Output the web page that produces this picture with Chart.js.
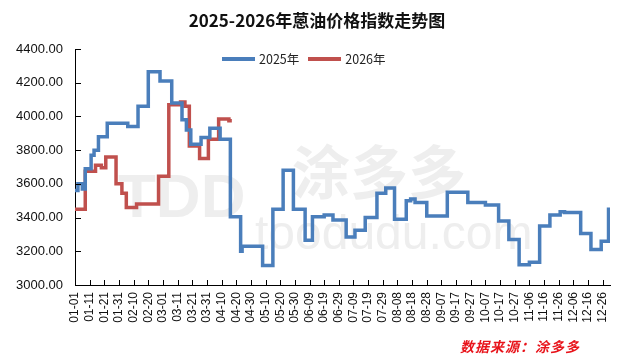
<!DOCTYPE html>
<html>
<head>
<meta charset="utf-8">
<script src="https://cdn.jsdelivr.net/npm/chart.js@4/dist/chart.umd.min.js"></script>
<style>
  html, body { margin: 0; padding: 0; background: #fff; }
  #wrap { position: relative; width: 620px; height: 361px; }
  #title { position: absolute; left: 0; top: 7px; width: 634px; text-align: center;
           font: bold 17px "Noto Sans CJK SC", sans-serif; color: #111; }
  #legend { position: absolute; left: 222px; top: 49px; display: flex;
            font: 12.5px "Noto Sans CJK SC", sans-serif; color: #222; }
  #legend .item { display: flex; align-items: center; margin-right: 9px; }
  #legend .swatch { width: 33px; height: 4px; margin-right: 4px; }
  #source { position: absolute; left: 460px; top: 336px; letter-spacing: 1px;
            font: italic bold 14px "Noto Sans CJK SC", sans-serif; color: #e8141b; }
</style>
</head>
<body>
<div id="wrap">
  <canvas id="chart" width="620" height="361"></canvas>
  <div id="title">2025-2026年蒽油价格指数走势图</div>
  <div id="legend"></div>
  <div id="source">数据来源：涂多多</div>
</div>
<script>
// x axis tick labels, one every 10 days
const tickLabels = ['01-01', '01-11', '01-21', '01-31', '02-10', '02-20', '03-01', '03-11', '03-21', '03-31',
  '04-10', '04-20', '04-30', '05-10', '05-20', '05-30', '06-09', '06-19', '06-29', '07-09',
  '07-19', '07-29', '08-08', '08-18', '08-28', '09-07', '09-17', '09-27', '10-07', '10-17',
  '10-27', '11-06', '11-16', '11-26', '12-06', '12-16', '12-26'];

// 2025: day of year where the price changes, and the new price
const days2025 = [0, 2, 5, 7, 11, 13, 16, 22, 36, 43, 50, 58, 66, 73, 76, 79, 86, 92, 99, 106,
  113, 114, 128, 135, 142, 149, 157, 162, 170, 176, 185, 191, 198, 206, 212, 218, 226, 229, 232, 240,
  254, 268, 280, 289, 296, 303, 310, 317, 324, 331, 334, 345, 352, 359, 364, 365];
const values2025 = [3560, 3600, 3570, 3690, 3770, 3800, 3880, 3960, 3940, 4060, 4265, 4210, 4080, 3980, 3920, 3835, 3875, 3930, 3865, 3405,
  3200, 3230, 3115, 3450, 3680, 3450, 3265, 3405, 3415, 3385, 3285, 3325, 3400, 3545, 3575, 3390, 3500, 3510, 3490, 3410,
  3550, 3490, 3475, 3380, 3270, 3120, 3135, 3350, 3415, 3435, 3430, 3305, 3210, 3260, 3450, 3450];

// 2026 so far
const days2026 = [0, 7, 14, 18, 21, 28, 32, 35, 42, 57, 64, 72, 75, 78, 85, 91, 98, 105, 107];
const values2026 = [3450, 3675, 3710, 3695, 3760, 3600, 3545, 3460, 3480, 3645, 4070, 4085, 4060, 3825, 3750, 3865, 3985, 3975, 3975];

const toPoints = (days, values) => days.map((d, i) => ({ x: d, y: values[i] }));

// faint watermark behind the lines
const watermark = {
  id: 'watermark',
  beforeDatasetsDraw(chart) {
    const ctx = chart.ctx;
    ctx.save();
    ctx.fillStyle = '#eeeeee';
    ctx.textBaseline = 'middle';
    ctx.font = 'bold 62px "Liberation Sans", sans-serif';
    ctx.fillText('TDD', 118, 200);
    ctx.font = 'bold 58px "Noto Sans CJK SC", sans-serif';
    ctx.fillText('涂多多', 292, 172);
    ctx.font = '48px "Liberation Sans", sans-serif';
    ctx.fillText('toodudu.com', 255, 236);
    ctx.restore();
  }
};

// small tick marks pointing into the plot
const inwardTicks = {
  id: 'inwardTicks',
  afterDatasetsDraw(chart) {
    const { ctx, chartArea, scales: { x, y } } = chart;
    ctx.save();
    ctx.strokeStyle = '#000';
    ctx.lineWidth = 1;
    ctx.beginPath();
    y.ticks.forEach((t, i) => {
      const py = Math.round(y.getPixelForTick(i)) + 0.5;
      ctx.moveTo(chartArea.left, py);
      ctx.lineTo(chartArea.left + 6, py);
    });
    x.ticks.forEach((t, i) => {
      const px = Math.round(x.getPixelForTick(i)) + 0.5;
      ctx.moveTo(px, chartArea.bottom);
      ctx.lineTo(px, chartArea.bottom - 5);
    });
    ctx.stroke();
    ctx.restore();
  }
};

const ctx = document.getElementById('chart').getContext('2d');
const chart = new Chart(ctx, {
  type: 'line',
  data: {
    datasets: [
      {
        label: '2025年',
        data: toPoints(days2025, values2025),
        borderColor: '#4a7ebb',
        backgroundColor: '#4a7ebb',
        borderWidth: 3.5,
        stepped: 'before',
        pointRadius: 0
      },
      {
        label: '2026年',
        data: toPoints(days2026, values2026),
        borderColor: '#c0504d',
        backgroundColor: '#c0504d',
        borderWidth: 3.5,
        stepped: 'before',
        pointRadius: 0
      }
    ]
  },
  options: {
    responsive: false,
    animation: false,
    layout: { padding: { left: 0, right: 10, top: 49, bottom: 0 } },
    plugins: {
      legend: { display: false },
      title: { display: false },
      tooltip: { enabled: false }
    },
    scales: {
      x: {
        type: 'linear',
        min: 0,
        max: 365,
        grid: { display: false, drawTicks: false },
        border: { color: '#000', width: 1 },
        afterBuildTicks: scale => {
          scale.ticks = tickLabels.map((t, i) => ({ value: i * 10 }));
        },
        afterFit: scale => {
          scale.height = 76;
          scale.paddingLeft = 0;
          scale.paddingRight = 0;
        },
        ticks: {
          autoSkip: false,
          minRotation: 90,
          maxRotation: 90,
          padding: 7,
          color: '#111',
          font: { family: '"Liberation Sans", sans-serif', size: 12 },
          callback: (v, i) => tickLabels[i]
        }
      },
      y: {
        min: 3000,
        max: 4400,
        grid: { display: false, drawTicks: false },
        border: { color: '#000', width: 1 },
        afterFit: scale => {
          scale.width = 75;
        },
        ticks: {
          stepSize: 200,
          padding: 12,
          color: '#111',
          font: { family: '"Liberation Sans", sans-serif', size: 13 },
          callback: v => v.toFixed(2)
        }
      }
    }
  },
  plugins: [watermark, inwardTicks]
});

// legend built from the datasets
const legendEl = document.getElementById('legend');
chart.data.datasets.forEach(ds => {
  const item = document.createElement('div');
  item.className = 'item';
  const sw = document.createElement('span');
  sw.className = 'swatch';
  sw.style.background = ds.borderColor;
  const label = document.createElement('span');
  label.textContent = ds.label;
  item.appendChild(sw);
  item.appendChild(label);
  legendEl.appendChild(item);
});
</script>
</body>
</html>
